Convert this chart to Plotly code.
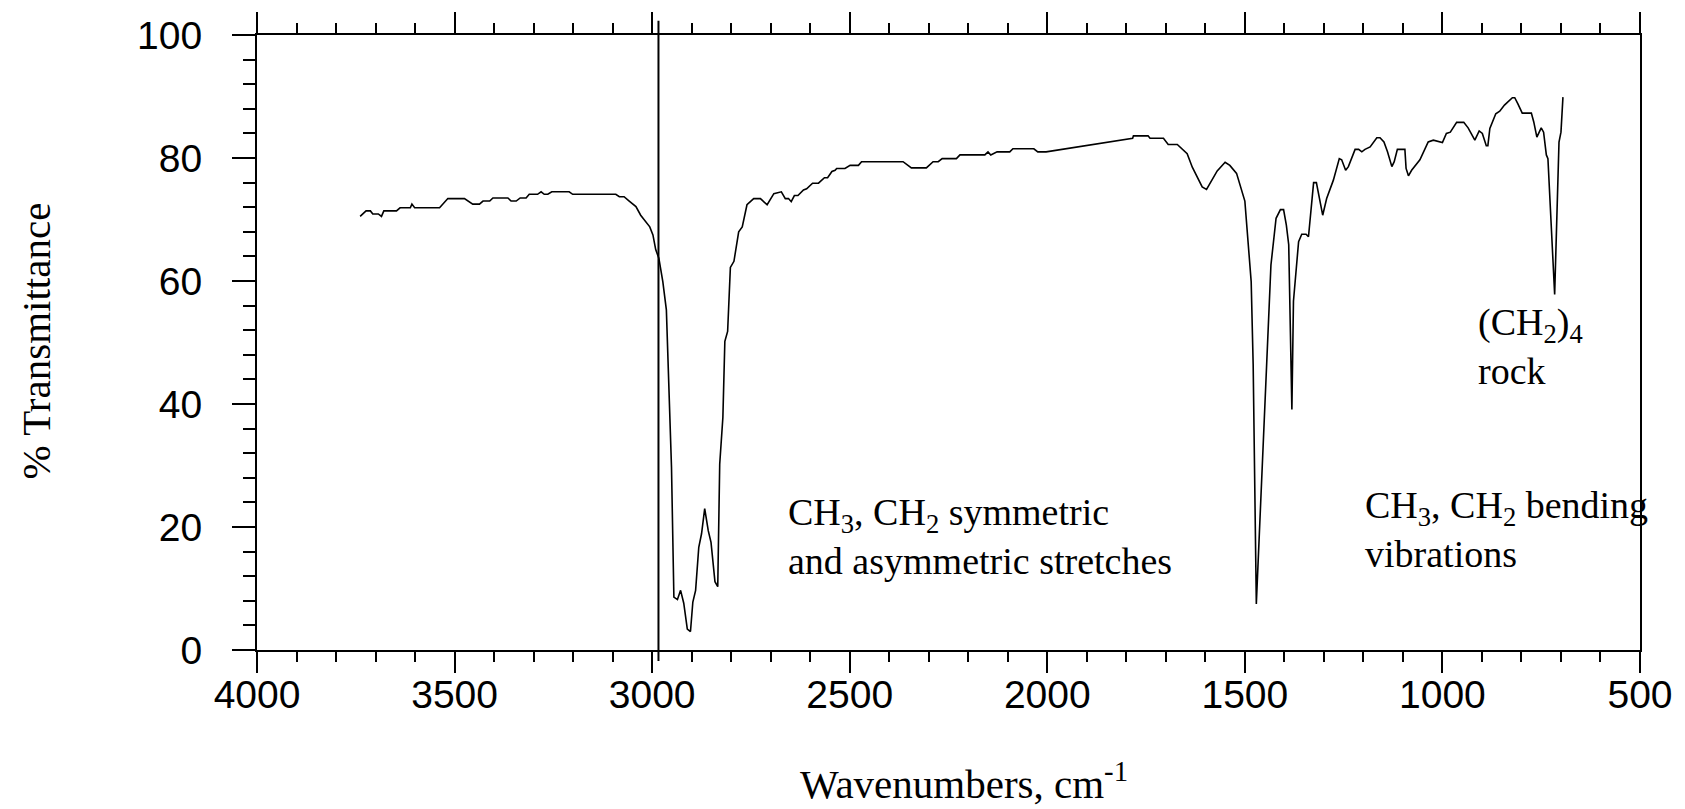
import plotly.graph_objects as go

# Wavenumber (cm^-1) and % transmittance
wavenumber = [
    3739, 3724, 3713, 3707, 3693, 3685, 3679, 3647, 3638, 3612, 3608, 3601, 3538, 3517, 3475, 3466,
    3454, 3437, 3428, 3411, 3403, 3365, 3357, 3344, 3334, 3319, 3311, 3290, 3281, 3273, 3264, 3254,
    3210, 3201, 3092, 3083, 3071, 3058, 3041, 3029, 3016, 3006, 2998, 2991, 2983, 2973, 2964, 2957,
    2951, 2945, 2936, 2928, 2920, 2911, 2903, 2897, 2890, 2882, 2875, 2867, 2858, 2851, 2841, 2834,
    2829, 2821, 2816, 2809, 2802, 2793, 2781, 2772, 2760, 2743, 2726, 2709, 2692, 2673, 2663, 2655,
    2648, 2640, 2631, 2617, 2609, 2594, 2579, 2564, 2556, 2545, 2537, 2533, 2512, 2499, 2478, 2470,
    2365, 2344, 2306, 2289, 2276, 2266, 2230, 2221, 2158, 2150, 2143, 2127, 2095, 2087, 2034, 2024,
    2003, 1784, 1782, 1745, 1740, 1706, 1694, 1671, 1658, 1646, 1633, 1620, 1608, 1597, 1587, 1570,
    1550, 1538, 1521, 1511, 1500, 1484, 1479, 1471, 1452, 1439, 1434, 1421, 1410, 1402, 1395, 1389,
    1385, 1381, 1377, 1364, 1356, 1345, 1339, 1333, 1326, 1319, 1311, 1303, 1293, 1276, 1261, 1255,
    1245, 1238, 1221, 1212, 1204, 1196, 1183, 1166, 1158, 1148, 1139, 1128, 1122, 1114, 1095, 1092,
    1086, 1078, 1057, 1036, 1023, 1000, 990, 980, 964, 946, 935, 918, 907, 899, 889, 885,
    880, 865, 855, 843, 823, 817, 809, 798, 775, 769, 761, 750, 744, 737, 733, 716,
    705, 700, 695,
]
transmittance = [
    70.5, 71.4, 71.4, 70.9, 70.9, 70.5, 71.4, 71.4, 71.9, 71.9, 72.5, 71.9, 71.9, 73.4, 73.4, 73.0,
    72.5, 72.5, 73.0, 73.0, 73.5, 73.5, 73.0, 73.0, 73.5, 73.5, 74.1, 74.1, 74.5, 74.1, 74.1, 74.5,
    74.5, 74.1, 74.1, 73.7, 73.7, 73.0, 72.1, 70.7, 69.7, 68.8, 67.5, 65.1, 63.7, 59.9, 55.3, 43.2,
    29.7, 8.6, 8.2, 9.7, 7.6, 3.4, 3.0, 7.8, 9.7, 16.7, 18.9, 23.0, 19.4, 17.5, 11.1, 10.3,
    30.2, 37.8, 50.2, 51.8, 62.2, 63.2, 68.0, 68.8, 72.4, 73.4, 73.4, 72.4, 74.2, 74.5, 73.4, 73.4,
    72.9, 73.9, 73.9, 74.8, 75.0, 75.9, 75.9, 76.8, 76.8, 77.8, 78.0, 78.3, 78.3, 78.8, 78.8, 79.4,
    79.4, 78.4, 78.4, 79.4, 79.4, 79.9, 79.9, 80.5, 80.5, 81.0, 80.5, 81.0, 81.0, 81.5, 81.5, 81.0,
    81.0, 83.2, 83.6, 83.6, 83.2, 83.2, 82.2, 82.2, 81.5, 80.7, 78.5, 76.9, 75.3, 74.9, 76.1, 77.9,
    79.3, 78.8, 77.5, 75.3, 73.0, 59.9, 46.5, 7.5, 35.1, 56.7, 62.6, 70.2, 71.6, 71.6, 69.1, 65.9,
    48.6, 39.1, 56.7, 66.4, 67.6, 67.6, 67.2, 71.8, 76.0, 76.0, 73.4, 70.7, 73.4, 76.4, 79.9, 79.7,
    78.0, 78.6, 81.4, 81.4, 81.0, 81.4, 81.8, 83.3, 83.3, 82.6, 81.0, 78.6, 79.4, 81.4, 81.4, 78.3,
    77.1, 78.0, 79.7, 82.6, 82.9, 82.5, 84.0, 84.2, 85.8, 85.8, 84.9, 82.9, 84.4, 84.0, 82.0, 82.0,
    84.8, 87.2, 87.6, 88.6, 89.8, 89.8, 88.8, 87.3, 87.3, 85.9, 83.4, 84.9, 84.2, 80.5, 79.9, 57.8,
    82.6, 84.2, 89.9,
]

x_tick_values = [4000, 3500, 3000, 2500, 2000, 1500, 1000, 500]
y_tick_values = [0, 20, 40, 60, 80, 100]
marker_wavenumber = 2984

ann_text = [
    "CH<sub>3</sub>, CH<sub>2</sub> symmetric<br>and asymmetric stretches",
    "CH<sub>3</sub>, CH<sub>2</sub> bending<br>vibrations",
    "(CH<sub>2</sub>)<sub>4</sub><br>rock",
]
ann_x = [2660, 1201, 916]
ann_y = [18.5, 19.6, 49.3]

fig = go.Figure()
fig.add_trace(go.Scatter(
    x=wavenumber, y=transmittance, mode="lines",
    line=dict(color="black", width=1.6), showlegend=False, hoverinfo="skip",
))

fig.add_shape(type="line", xref="x", yref="paper",
              x0=marker_wavenumber, x1=marker_wavenumber, y0=-0.018, y1=1.023,
              line=dict(color="black", width=2))

serif = "Liberation Serif, Times New Roman, serif"
for t, xv, yv in zip(ann_text, ann_x, ann_y):
    fig.add_annotation(x=xv, y=yv, xref="x", yref="y", text=t, showarrow=False,
                       xanchor="left", yanchor="middle", align="left",
                       font=dict(family=serif, size=38, color="black"))

fig.add_annotation(x=0.511, y=-0.213, xref="paper", yref="paper",
                   text="Wavenumbers, cm<sup>-1</sup>", showarrow=False,
                   xanchor="center", yanchor="middle",
                   font=dict(family=serif, size=41, color="black"))
fig.add_annotation(x=-0.1597, y=0.502, xref="paper", yref="paper",
                   text="% Transmittance", showarrow=False, textangle=-90,
                   xanchor="center", yanchor="middle",
                   font=dict(family=serif, size=41, color="black"))

axis_font = dict(family="Liberation Sans, Arial, sans-serif", size=39, color="black")
fig.update_xaxes(
    range=[4000, 500], tickvals=x_tick_values, showgrid=False, zeroline=False,
    showline=True, linecolor="black", linewidth=2, mirror="ticks",
    ticks="outside", ticklen=21, tickwidth=2, tickcolor="black",
    ticklabelstandoff=-12, tickfont=axis_font,
    minor=dict(dtick=100, ticks="outside", ticklen=10, tickwidth=2, tickcolor="black", showgrid=False),
)
fig.update_yaxes(
    range=[0, 100], tickvals=y_tick_values, showgrid=False, zeroline=False,
    showline=True, linecolor="black", linewidth=2, mirror=True,
    ticks="outside", ticklen=23, tickwidth=2, tickcolor="black",
    ticklabelstandoff=22, tickfont=axis_font,
    minor=dict(dtick=4, ticks="outside", ticklen=12, tickwidth=2, tickcolor="black", showgrid=False),
)
fig.update_layout(
    width=1685, height=809,
    margin=dict(l=257, r=34, t=33, b=159),
    paper_bgcolor="white", plot_bgcolor="white",
)
fig.write_html("out.html")
